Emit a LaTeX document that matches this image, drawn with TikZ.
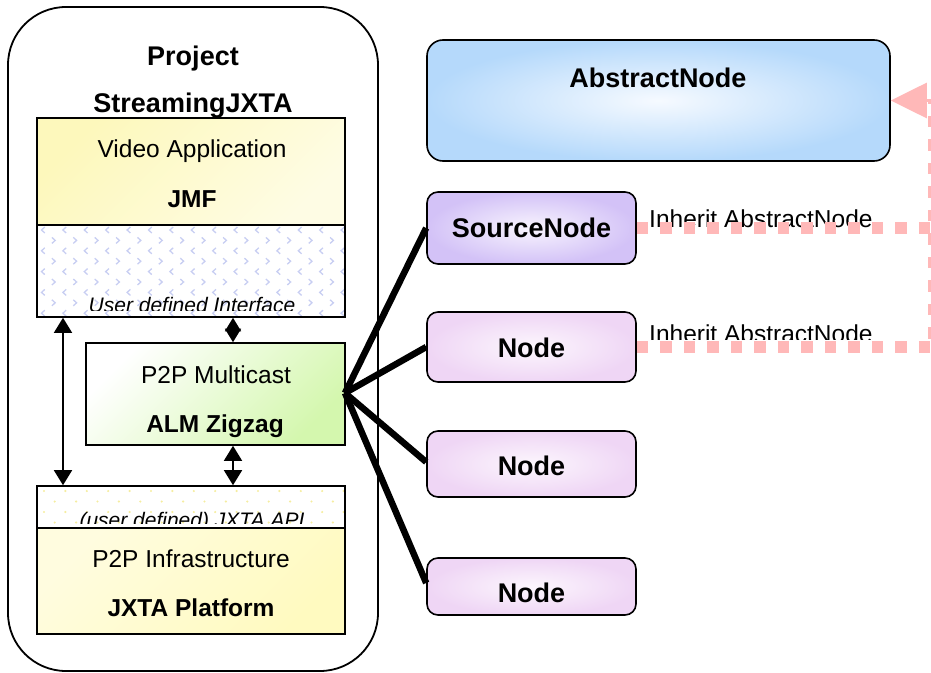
\documentclass[tikz,border=0pt]{standalone}
\usepackage{fontspec}
\setmainfont{Liberation Sans}
\usetikzlibrary{arrows.meta}
\definecolor{vidY}{HTML}{FDF8BC}
\definecolor{infY}{HTML}{FFFAC0}
\definecolor{mcG}{HTML}{D4F7AE}
\definecolor{absOut}{HTML}{B5D9FB}
\definecolor{absIn}{HTML}{F6FAFF}
\definecolor{srcOut}{HTML}{D3C2F7}
\definecolor{srcIn}{HTML}{F8F4FE}
\definecolor{ndOut}{HTML}{EFD6F5}
\definecolor{ndIn}{HTML}{FCF6FD}
\definecolor{pinkc}{HTML}{FFB8B8}
\definecolor{chevc}{HTML}{C8CEF2}
\definecolor{dotc}{HTML}{F5EDA0}
\newcommand\txreg{\fontsize{24.5bp}{28bp}\selectfont}
\newcommand\txbold{\fontsize{24.5bp}{28bp}\selectfont\bfseries}
\newcommand\txbig{\fontsize{27bp}{31bp}\selectfont\bfseries}
\newcommand\txit{\fontsize{21bp}{25bp}\selectfont\itshape}
\begin{document}
\begin{tikzpicture}[x=1bp,y=-1bp,
  box/.style={draw=black, line width=1.6bp, rectangle, inner sep=0pt},
  rbox/.style={draw=black, line width=1.6bp, rectangle, rounded corners=11bp, inner sep=0pt},
  lbl/.style={anchor=base, inner sep=0pt},
  dbl/.style={line width=1.6bp, {Triangle[length=15bp,width=18bp]}-{Triangle[length=15bp,width=18bp]}},
  dia/.style={line width=1.6bp, {Triangle[length=13.5bp,width=16bp]}-{Triangle[length=13.5bp,width=16bp]}},
  link/.style={line width=6.5bp},
  inh/.style={draw=pinkc, line width=12bp, dash pattern=on 11.5bp off 12bp}]
\useasboundingbox (0,0) rectangle (931,673);

% outer frame
\node[draw=black, line width=1.8bp, rectangle, rounded corners=58bp, minimum width=370bp, minimum height=664bp, inner sep=0pt] (outer) at (193,339) {};

% pattern of user defined interface
\begin{scope}
\clip (37,225) rectangle (345,317);
\foreach \r in {0,...,8}{
  \pgfmathsetmacro{\yy}{230+\r*10.4}
  \pgfmathsetmacro{\off}{mod(\r,2)*10.7}
  \foreach \c in {0,...,14}{
    \pgfmathsetmacro{\xx}{43+\c*21.4+\off}
    \ifodd\r
      \draw[chevc, line width=1.3bp] (\xx-1.8,\yy-3) -- (\xx+1.5,\yy) -- (\xx-1.8,\yy+3);
    \else
      \draw[chevc, line width=1.3bp] (\xx+1.8,\yy-3) -- (\xx-1.5,\yy) -- (\xx+1.8,\yy+3);
    \fi
  }
}
\end{scope}
% pattern of JXTA API
\begin{scope}
\clip (37,486) rectangle (345,528);
\foreach \r in {0,...,3}{
  \pgfmathsetmacro{\yy}{491+\r*10.5}
  \pgfmathsetmacro{\off}{mod(\r,2)*10.7}
  \foreach \c in {0,...,14}{
    \pgfmathsetmacro{\xx}{44+\c*21.4+\off}
    \fill[dotc] (\xx,\yy) circle (1.2bp);
  }
}
\end{scope}

% left stack
\node[box, top color=vidY, bottom color=white!60!vidY, shading angle=45, minimum width=308bp, minimum height=107bp] (video) at (191,171.5) {};
\node[box, minimum width=308bp, minimum height=92bp] (udi) at (191,271) {};
\node[box, top color=white, bottom color=mcG, shading angle=45, minimum width=259bp, minimum height=102bp] (mc) at (215.5,394) {};
\node[box, minimum width=308bp, minimum height=42bp] (api) at (191,507) {};
\node[box, top color=white!50!infY, bottom color=infY, shading angle=45, minimum width=308bp, minimum height=106bp] (infra) at (191,581) {};

\node[lbl] (tproj) at (193,66) {\txbig Project};
\node[lbl] (tstream) at (193,113) {\txbig StreamingJXTA};
\node[lbl] (tvid) at (192,158) {\txreg Video Application};
\node[lbl] (tjmf) at (192,207) {\txbold JMF};
\begin{scope}
  \clip (37,226) rectangle (345,310);
  \node[lbl] (tudi) at (192,312) {\txit User defined Interface};
\end{scope}
\node[lbl] (tmc) at (216,383) {\txreg P2P Multicast};
\node[lbl] (talm) at (215,432) {\txbold ALM Zigzag};
\begin{scope}
  \clip (37,487) rectangle (345,523.5);
  \node[lbl] (tapi) at (192,527) {\txit (user defined) JXTA API};
\end{scope}
\node[lbl] (tinf) at (191,567) {\txreg P2P Infrastructure};
\node[lbl] (tjxp) at (191,616) {\txbold JXTA Platform};

% left connectors
\coordinate (lx) at (63,0);
\coordinate (dx) at (233,0);
\draw[dbl] (udi.south -| lx) -- (api.north -| lx);
\draw[dia] (udi.south -| dx) -- (mc.north -| dx);
\draw[dbl] (mc.south -| dx) -- (api.north -| dx);

% right side nodes
\node[rbox, rounded corners=16bp, inner color=absIn, outer color=absOut, minimum width=463bp, minimum height=121bp] (abs) at (658.5,100.5) {};
\node[rbox, inner color=srcIn, outer color=srcOut, minimum width=209bp, minimum height=72bp] (src) at (531.5,228) {};
\node[rbox, inner color=ndIn, outer color=ndOut, minimum width=209bp, minimum height=70bp] (n1) at (531.5,347) {};
\node[rbox, inner color=ndIn, outer color=ndOut, minimum width=209bp, minimum height=66bp] (n2) at (531.5,464) {};
\node[rbox, inner color=ndIn, outer color=ndOut, minimum width=209bp, minimum height=57bp] (n3) at (531.5,586.5) {};

\node[lbl] (tabs) at (658,88) {\txbig AbstractNode};
\node[lbl] (tsrc) at (531.5,237) {\txbig SourceNode};
\node[lbl] (tn1) at (531.5,357) {\txbig Node};
\node[lbl] (tn2) at (531.5,475) {\txbig Node};
\node[lbl] (tn3) at (531.5,602) {\txbig Node};

% links from multicast hub
\coordinate (hub) at (345,393);
\draw[link] (hub) -- (src.west);
\draw[link] (hub) -- (n1.west);
\draw[link] (hub) -- ([yshift=2bp]n2.west);
\draw[link] (hub) -- ([yshift=3.5bp]n3.west);

% inheritance
\node[lbl, anchor=base west] (inh1) at (649,227) {\txreg Inherit AbstractNode};
\begin{scope}
  \clip (640,300) rectangle (931,339);
  \node[lbl, anchor=base west] (inh2) at (649,342) {\txreg Inherit AbstractNode};
\end{scope}
\coordinate (v1) at (934,228);
\coordinate (v2) at (934,347);
\coordinate (vt) at (934,100.5);
\draw[inh] (src.east) -- (v1);
\draw[inh] (n1.east) -- (v2) -- (vt);
\draw[pinkc, line width=3bp, -{Triangle[length=36bp,width=35bp]}] (vt) -- (abs.east);
\end{tikzpicture}
\end{document}
